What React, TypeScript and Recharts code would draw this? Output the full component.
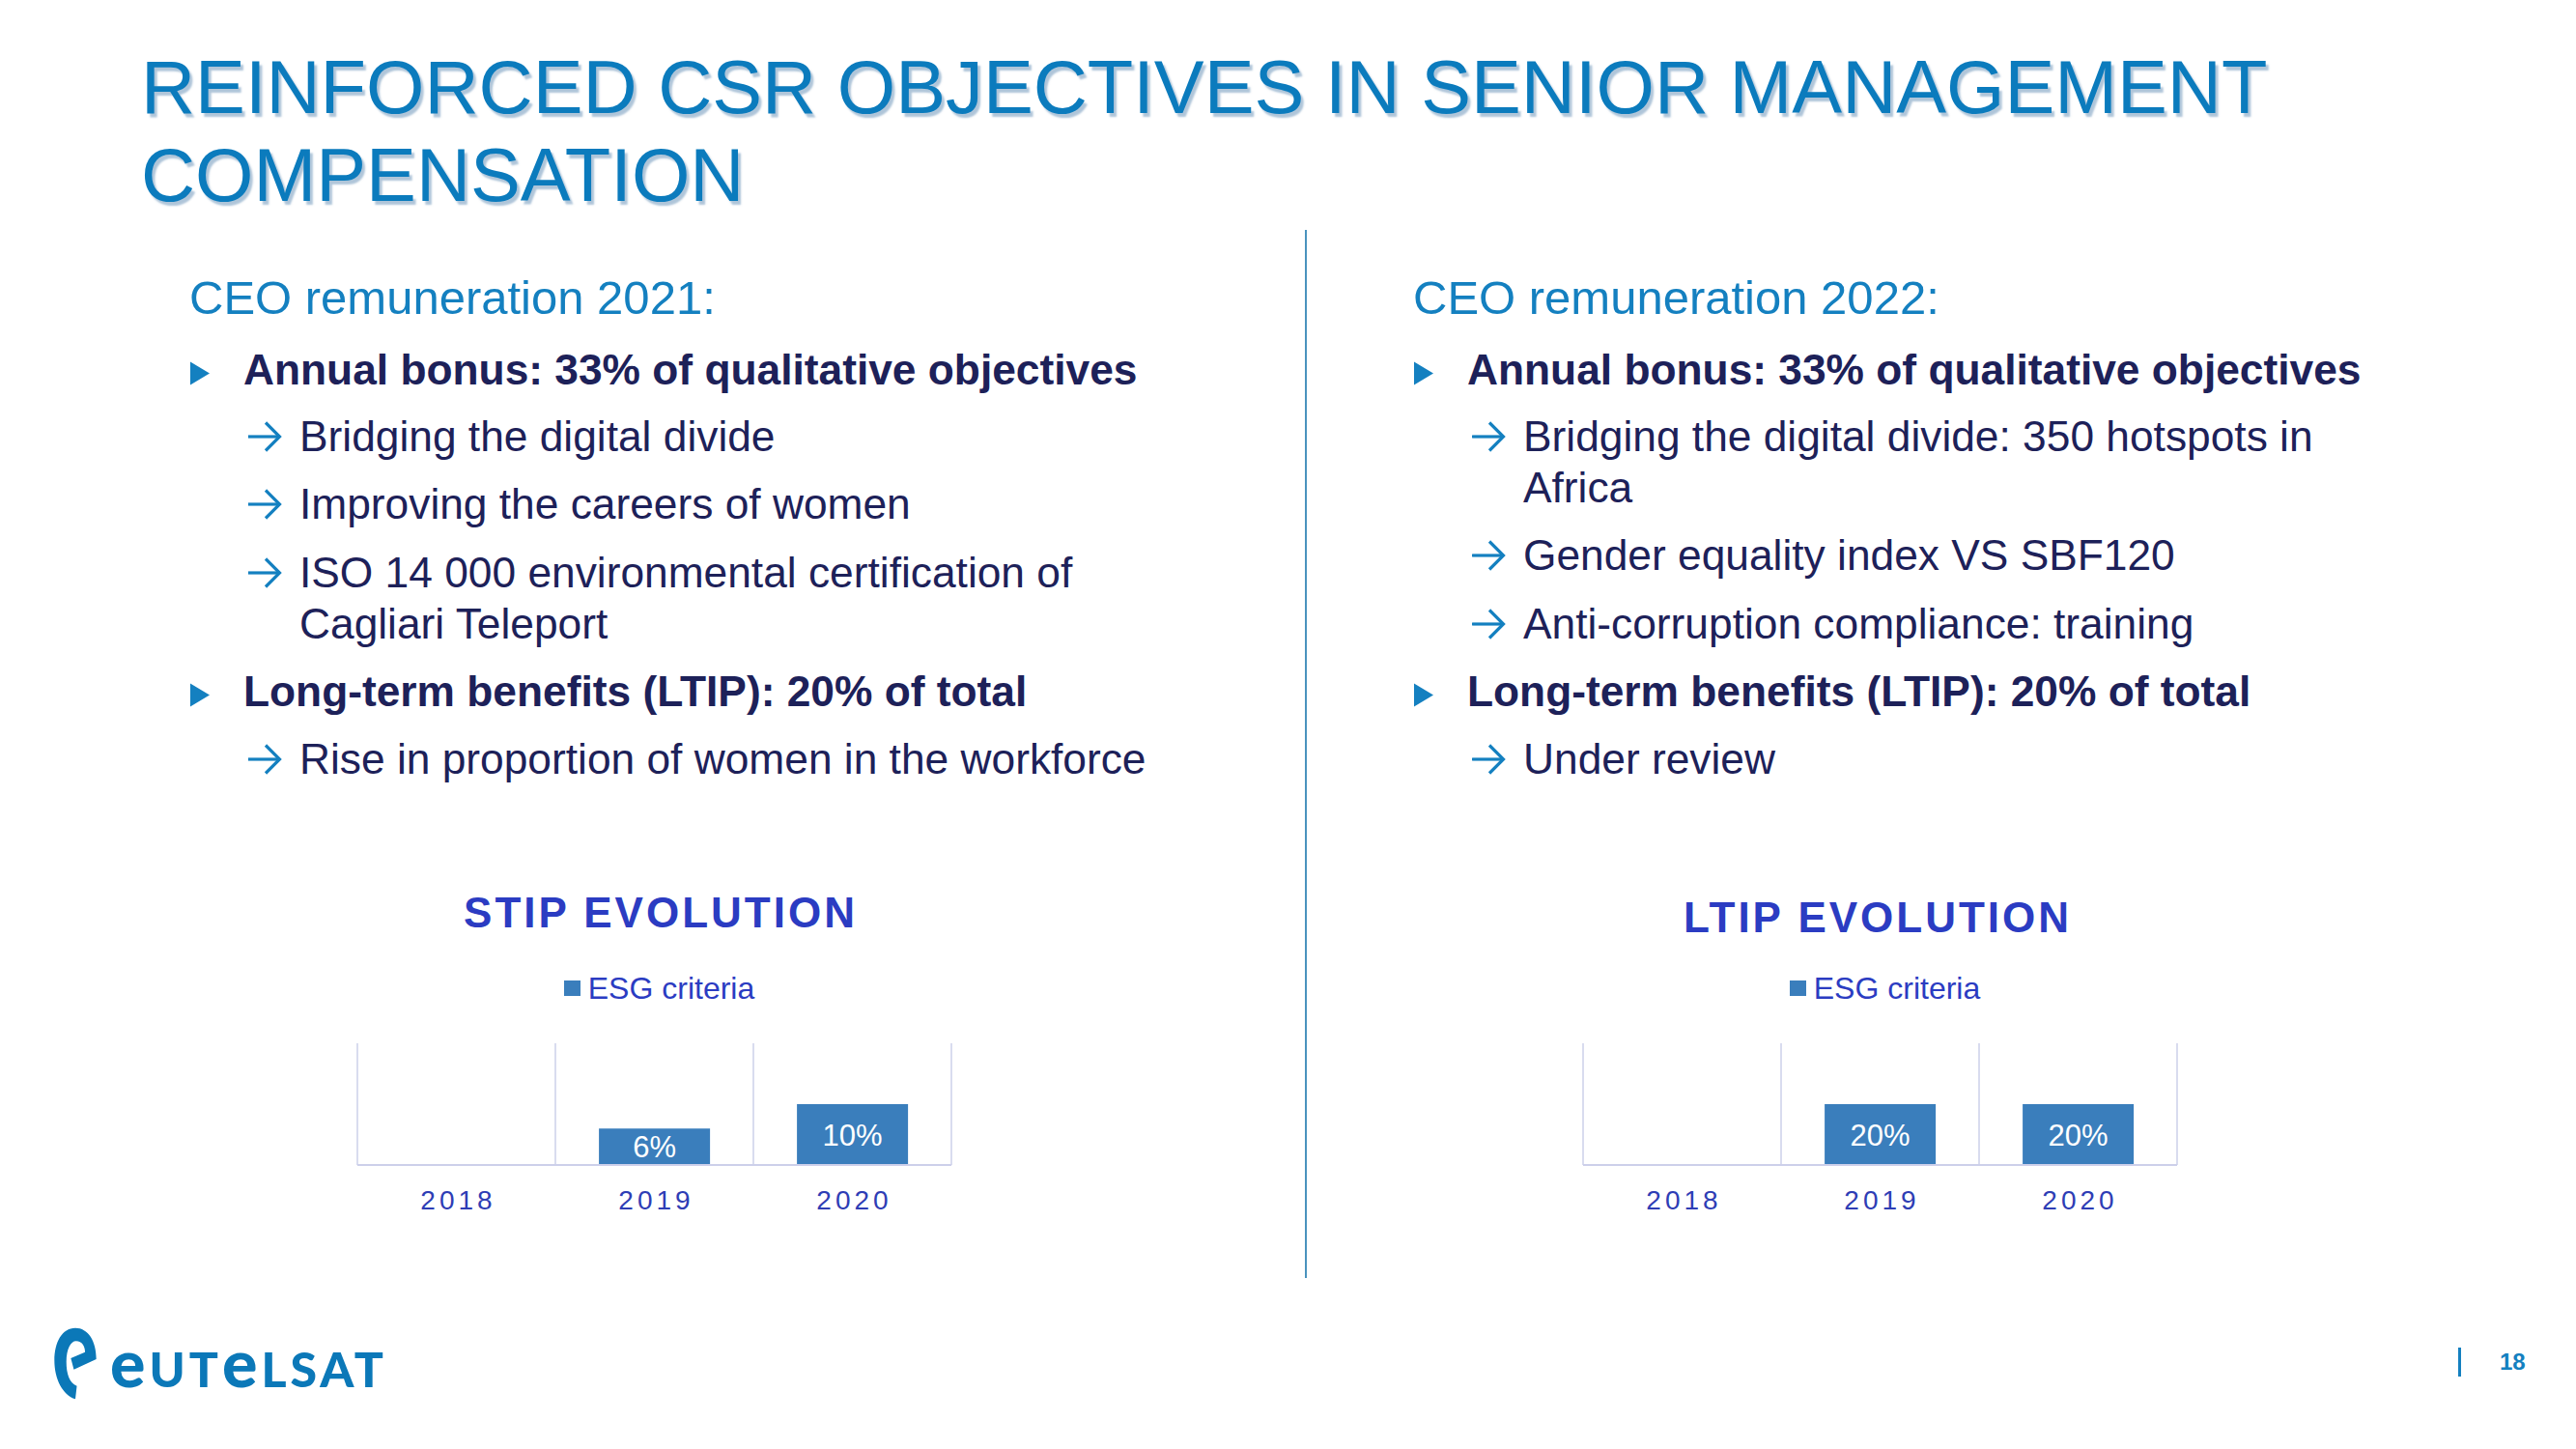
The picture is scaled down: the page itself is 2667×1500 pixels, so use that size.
import React from 'react';
import {
  BarChart,
  Bar,
  XAxis,
  YAxis,
  CartesianGrid,
  Legend,
  LabelList,
} from 'recharts';

// chart data
const years = ['2018', '2019', '2020'];
const stipEsg = [0, 6, 10];
const ltipEsg = [0, 20, 20];
const seriesName = 'ESG criteria';

const BAR_BLUE = '#3A7EBC';
const CHART_BLUE = '#2B3CC2';
const GRID = '#CDD0EA';
const NAVY = '#1D2159';
const BRAND = '#1480C0';
const FONT = '"Liberation Sans", Arial, sans-serif';

function YearTick(props: any) {
  const { x, y, payload } = props;
  return (
    <text
      x={x + 2}
      y={y}
      dy="0.71em"
      textAnchor="middle"
      fill="#2E3DB5"
      fontSize={28}
      fontFamily={FONT}
      style={{ letterSpacing: 4 }}
    >
      {payload.value}
    </text>
  );
}

function LegendBox() {
  return (
    <div
      style={{
        height: 80,
        display: 'flex',
        justifyContent: 'center',
        alignItems: 'flex-start',
        paddingLeft: 10,
        boxSizing: 'border-box',
      }}
    >
      <div style={{ display: 'flex', alignItems: 'center', marginTop: 6, height: 34 }}>
        <span style={{ width: 17, height: 16, background: BAR_BLUE, display: 'inline-block', marginRight: 8 }} />
        <span style={{ color: CHART_BLUE, fontSize: 32, fontFamily: FONT }}>{seriesName}</span>
      </div>
    </div>
  );
}

function EvolutionChart({ title, values, max, left, titleCenterX, titleCenterY }: any) {
  const data = years.map((year, i) => ({ year, esg: values[i] }));
  return (
    <>
      <div
        style={{
          position: 'absolute',
          left: titleCenterX - 300,
          top: titleCenterY - 25,
          width: 600,
          textAlign: 'center',
          fontSize: 44,
          lineHeight: '50px',
          fontWeight: 700,
          letterSpacing: 3,
          color: CHART_BLUE,
          fontFamily: FONT,
        }}
      >
        {title}
      </div>
      <div style={{ position: 'absolute', left, top: 980 }}>
        <BarChart
          width={760}
          height={300}
          data={data}
          margin={{ top: 20, right: 75, bottom: 0, left: 70 }}
          barCategoryGap="22%"
        >
          <CartesianGrid
            horizontal={false}
            stroke={GRID}
            strokeWidth={1.5}
            verticalCoordinatesGenerator={({ offset }: any) =>
              Array.from({ length: years.length + 1 }, (_, i) => offset.left + (offset.width * i) / years.length)
            }
          />
          <Legend verticalAlign="top" align="center" height={80} content={() => <LegendBox />} />
          <XAxis
            dataKey="year"
            axisLine={{ stroke: GRID, strokeWidth: 2 }}
            tickLine={false}
            tickSize={0}
            tickMargin={26}
            height={74}
            interval={0}
            tick={YearTick}
          />
          <YAxis hide domain={[0, max]} />
          <Bar dataKey="esg" name={seriesName} fill={BAR_BLUE} isAnimationActive={false}>
            <LabelList
              dataKey="esg"
              position="center"
              fill="#ffffff"
              fontSize={31}
              fontFamily={FONT}
              formatter={(v: any) => `${v}%`}
            />
          </Bar>
        </BarChart>
      </div>
    </>
  );
}

function Triangle({ x, cy }: any) {
  return (
    <svg style={{ position: 'absolute', left: x, top: cy - 9 }} width={22} height={25}>
      <polygon points="1,0.5 21,12.5 1,24.5" fill={BRAND} />
    </svg>
  );
}

function Arrow({ x, cy }: any) {
  return (
    <svg style={{ position: 'absolute', left: x, top: cy - 17 }} width={38} height={34}>
      <line x1={2} y1={17} x2={34} y2={17} stroke={BRAND} strokeWidth={3.2} />
      <polyline points="20,2.5 34.5,17 20,31.5" fill="none" stroke={BRAND} strokeWidth={3.2} />
    </svg>
  );
}

function Line({ x, cy, children, bold, size = 44.3, color = NAVY }: any) {
  return (
    <div
      style={{
        position: 'absolute',
        left: x,
        top: cy - 26,
        fontSize: size,
        lineHeight: '52px',
        fontWeight: bold ? 700 : 400,
        color,
        whiteSpace: 'nowrap',
        fontFamily: FONT,
      }}
    >
      {children}
    </div>
  );
}

function Column({ dx, heading, items }: any) {
  return (
    <>
      <Line x={196 + dx} cy={308} size={49} color={BRAND}>
        {heading}
      </Line>
      {items.map((it: any, i: number) => {
        if (it.kind === 'bullet') {
          return (
            <React.Fragment key={i}>
              <Triangle x={196 + dx} cy={it.cy} />
              <Line x={252 + dx} cy={it.cy} bold>
                {it.text}
              </Line>
            </React.Fragment>
          );
        }
        return (
          <React.Fragment key={i}>
            {it.arrow !== false && <Arrow x={255 + dx} cy={it.cy} />}
            <Line x={310 + dx} cy={it.cy}>
              {it.text}
            </Line>
          </React.Fragment>
        );
      })}
    </>
  );
}

const leftItems = [
  { kind: 'bullet', cy: 383, text: 'Annual bonus: 33% of qualitative objectives' },
  { kind: 'sub', cy: 452, text: 'Bridging the digital divide' },
  { kind: 'sub', cy: 522, text: 'Improving the careers of women' },
  { kind: 'sub', cy: 593, text: 'ISO 14 000 environmental certification of' },
  { kind: 'sub', cy: 646, text: 'Cagliari Teleport', arrow: false },
  { kind: 'bullet', cy: 716, text: 'Long-term benefits (LTIP): 20% of total' },
  { kind: 'sub', cy: 786, text: 'Rise in proportion of women in the workforce' },
];

const rightItems = [
  { kind: 'bullet', cy: 383, text: 'Annual bonus: 33% of qualitative objectives' },
  { kind: 'sub', cy: 452, text: 'Bridging the digital divide: 350 hotspots in' },
  { kind: 'sub', cy: 505, text: 'Africa', arrow: false },
  { kind: 'sub', cy: 575, text: 'Gender equality index VS SBF120' },
  { kind: 'sub', cy: 646, text: 'Anti-corruption compliance: training' },
  { kind: 'bullet', cy: 716, text: 'Long-term benefits (LTIP): 20% of total' },
  { kind: 'sub', cy: 786, text: 'Under review' },
];

export default function App() {
  return (
    <div
      style={{
        position: 'absolute',
        left: 0,
        top: 0,
        width: 2667,
        height: 1500,
        background: '#ffffff',
        overflow: 'hidden',
        fontFamily: FONT,
      }}
    >
      <div
        style={{
          position: 'absolute',
          left: 146,
          top: 45,
          fontSize: 77.7,
          lineHeight: '91px',
          color: '#0B7BBD',
          textShadow: '3px 4px 2px rgba(110,150,185,0.55)',
          whiteSpace: 'nowrap',
        }}
      >
        REINFORCED CSR OBJECTIVES IN SENIOR MANAGEMENT
        <br />
        COMPENSATION
      </div>

      <Column dx={0} heading="CEO remuneration 2021:" items={leftItems} />
      <Column dx={1267} heading="CEO remuneration 2022:" items={rightItems} />

      <div style={{ position: 'absolute', left: 1351, top: 238, width: 2, height: 1085, background: '#4A93BE' }} />

      <EvolutionChart title="STIP EVOLUTION" values={stipEsg} max={20} left={300} titleCenterX={684} titleCenterY={945} />
      <EvolutionChart title="LTIP EVOLUTION" values={ltipEsg} max={40} left={1569} titleCenterX={1944} titleCenterY={950} />

      <svg
        style={{ position: 'absolute', left: 54, top: 1372 }}
        width={48}
        height={79}
        viewBox="0 0 62 88"
        preserveAspectRatio="none"
      >
        <path
          d="M31 3 C13 3 3 20 3 40 C3 62 14 80 31 85 L33 70 C23 66 19 56 19 42 C19 27 25 18 32 18 C40 18 44 24 44 31 L25 38 L29 51 L59 39 C59 18 48 3 31 3 Z"
          fill="#0B78B8"
        />
      </svg>
      <div
        style={{
          position: 'absolute',
          left: 114,
          top: 1378,
          fontFamily: 'Lato, sans-serif',
          fontWeight: 900,
          fontSize: 50,
          lineHeight: '64px',
          color: '#0B78B8',
          letterSpacing: 4,
          whiteSpace: 'nowrap',
        }}
      >
        <span style={{ fontSize: 68 }}>e</span>UT<span style={{ fontSize: 68 }}>e</span>LSAT
      </div>

      <div style={{ position: 'absolute', left: 2545, top: 1395, width: 3, height: 30, background: BRAND }} />
      <div
        style={{
          position: 'absolute',
          left: 2588,
          top: 1396,
          fontSize: 24,
          lineHeight: '28px',
          fontWeight: 700,
          color: BRAND,
        }}
      >
        18
      </div>
    </div>
  );
}
